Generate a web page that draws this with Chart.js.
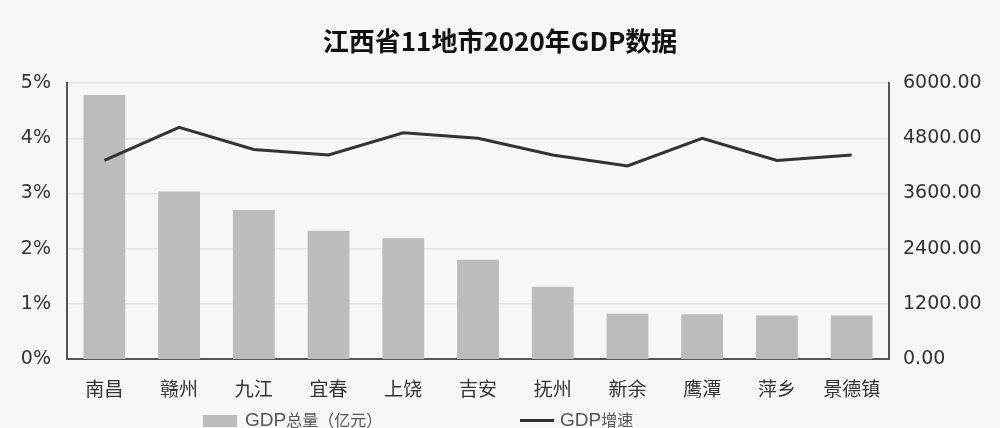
<!DOCTYPE html>
<html>
<head>
<meta charset="utf-8">
<script src="https://cdn.jsdelivr.net/npm/chart.js@4/dist/chart.umd.min.js"></script>
<style>
  html,body{margin:0;padding:0;background:#f7f7f7;overflow:hidden;}
  #wrap{position:relative;width:1000px;height:428px;}
  canvas{position:absolute;left:0;top:0;}
  .lg{position:absolute;top:408px;font-family:"Liberation Sans","Noto Sans CJK SC",sans-serif;font-size:19px;color:#555;white-space:nowrap;line-height:22px;}
  .lg span.box{display:inline-block;width:34px;height:12px;background:#bdbcbd;vertical-align:middle;margin-right:8px;}
  .lg span.ln{display:inline-block;width:34px;height:3px;background:#333;vertical-align:middle;margin-right:6px;}
  .lg .cjk{font-family:"Noto Sans CJK SC",sans-serif;font-size:16px;}
</style>
</head>
<body>
<div id="wrap">
<canvas id="c" width="1000" height="428"></canvas>
<div class="lg" style="left:203px;"><span class="box"></span>GDP<span class="cjk">总量（亿元）</span></div>
<div class="lg" style="left:520px;"><span class="ln"></span>GDP<span class="cjk">增速</span></div>
</div>
<script>
const cities = ["南昌","赣州","九江","宜春","上饶","吉安","抚州","新余","鹰潭","萍乡","景德镇"];
const gdpTotal = [5745.5, 3645.2, 3240.5, 2792.5, 2624.4, 2156.7, 1572.6, 985, 976, 945, 945];
const gdpGrowth = [3.6, 4.2, 3.8, 3.7, 4.1, 4.0, 3.7, 3.5, 4.0, 3.6, 3.7];
const pctTicks = [0,1,2,3,4,5];
const valTicks = [0,1200,2400,3600,4800,6000];

const tickFont = {family:"'DejaVu Sans', sans-serif", size:19};
const cjkFont = {family:"'Noto Sans CJK SC', sans-serif", size:19};

new Chart(document.getElementById('c'), {
  data: {
    labels: cities,
    datasets: [
      {
        type:'line', label:'GDP增速', data:gdpGrowth, yAxisID:'yL',
        borderColor:'#333333', borderWidth:3, pointRadius:0, tension:0, order:0
      },
      {
        type:'bar', label:'GDP总量（亿元）', data:gdpTotal, yAxisID:'yR',
        backgroundColor:'#bdbcbd', borderWidth:0,
        barPercentage:0.56, categoryPercentage:1.0, order:1
      }
    ]
  },
  options: {
    responsive:false, animation:false,
    layout:{padding:{left:0,right:0,top:0,bottom:0}},
    plugins:{
      legend:{display:false},
      tooltip:{enabled:false},
      title:{
        display:true, text:'江西省11地市2020年GDP数据', color:'#111',
        font:{family:"'Noto Sans CJK SC', sans-serif", size:26, weight:'bold', lineHeight:1.2},
        padding:{top:26,bottom:26}
      }
    },
    scales:{
      x:{
        grid:{display:false, drawTicks:false},
        border:{display:true,color:'#555',width:2},
        ticks:{color:'#333', font:cjkFont, padding:18, maxRotation:0, autoSkip:false},
        afterFit:(s)=>{ s.height = 428 - 359; }
      },
      yL:{
        position:'left', min:0, max:5,
        afterBuildTicks:(s)=>{ s.ticks = pctTicks.map(v=>({value:v})); },
        grid:{color:'#e3e3e3', lineWidth:1.5, drawTicks:false},
        border:{display:true,color:'#555',width:2},
        ticks:{color:'#333', font:tickFont, padding:16, callback:(v)=>v+'%'},
        afterFit:(s)=>{ s.width = 67; }
      },
      yR:{
        position:'right', min:0, max:6000,
        afterBuildTicks:(s)=>{ s.ticks = valTicks.map(v=>({value:v})); },
        grid:{display:false, drawTicks:false},
        border:{display:true,color:'#555',width:2},
        ticks:{color:'#333', font:tickFont, padding:14, callback:(v)=>Number(v).toFixed(2)},
        afterFit:(s)=>{ s.width = 111; }
      }
    }
  }
});
</script>
</body>
</html>
